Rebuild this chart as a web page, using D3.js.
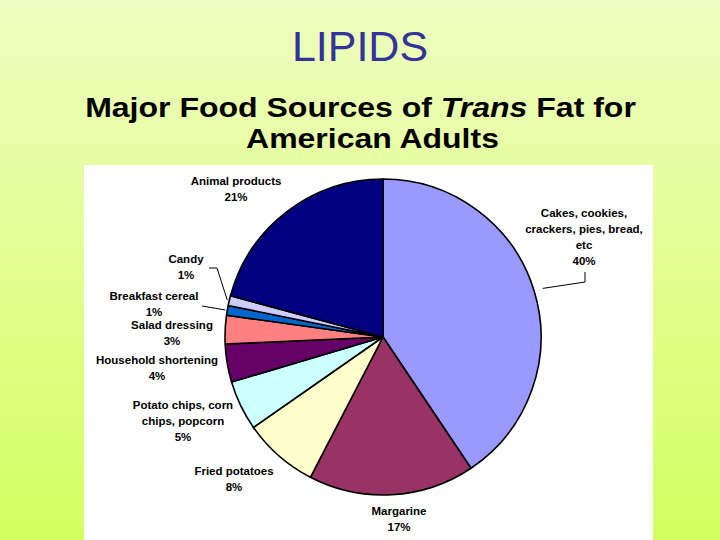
<!DOCTYPE html>
<html>
<head>
<meta charset="utf-8">
<script src="https://cdn.jsdelivr.net/npm/d3@7"></script>
<style>
  html, body { margin: 0; padding: 0; }
  body { width: 720px; height: 540px; overflow: hidden; }
</style>
</head>
<body>
<svg id="chart" width="720" height="540"></svg>
<script>
// ---- data ----
const categories = [
  "Cakes, cookies, crackers, pies, bread, etc",
  "Margarine",
  "Fried potatoes",
  "Potato chips, corn chips, popcorn",
  "Household shortening",
  "Salad dressing",
  "Breakfast cereal",
  "Candy",
  "Animal products"
];
// slice sizes
const values = [40.6, 17.0, 7.7, 5.1, 3.9, 2.9, 1.0, 1.0, 20.8];
// percentages printed in the labels
const pctLabels = ["40%", "17%", "8%", "5%", "4%", "3%", "1%", "1%", "21%"];
const labelLines = [
  ["Cakes, cookies,", "crackers, pies, bread,", "etc"],
  ["Margarine"],
  ["Fried potatoes"],
  ["Potato chips, corn", "chips, popcorn"],
  ["Household shortening"],
  ["Salad dressing"],
  ["Breakfast cereal"],
  ["Candy"],
  ["Animal products"]
];
const colors = ["#9999FF", "#993366", "#FFFFCC", "#CCFFFF", "#660066", "#FF8080", "#0066CC", "#CCCCFF", "#000080"];

// ---- layout (label anchors: centre x, first-line y) ----
const labelAnchors = [
  [584, 217], [399, 515], [234, 475], [183, 409], [157, 364],
  [172, 329], [154, 300], [186, 263], [236, 185]
];
const leaders = {
  7: { pts: [[209, 268], [217, 268]], gap: 2 },
  6: { pts: [[202, 306]], gap: 2 },
  0: { pts: [[585, 272], [585, 282]], gap: 9 }
};

const svg = d3.select("#chart");
const W = 720, H = 540;
const FONT = "Liberation Sans, Arial, sans-serif";

// background gradient
const defs = svg.append("defs");
const grad = defs.append("linearGradient").attr("id", "bg").attr("x1", 0).attr("y1", 0).attr("x2", 0).attr("y2", 1);
grad.append("stop").attr("offset", "0%").attr("stop-color", "#EEFDC0");
grad.append("stop").attr("offset", "100%").attr("stop-color", "#D4FF60");
svg.append("rect").attr("width", W).attr("height", H).attr("fill", "url(#bg)");

// titles
svg.append("text").attr("x", 360).attr("y", 61).attr("text-anchor", "middle")
  .attr("font-family", FONT).attr("font-size", 43)
  .attr("fill", "#333399").text("LIPIDS");

function fitWidth(sel, cx, target) {
  const w = sel.node().getComputedTextLength();
  const s = target / w;
  sel.attr("transform", `translate(${cx},0) scale(${s},1) translate(${-cx},0)`);
}
const sub1 = svg.append("text").attr("x", 360.5).attr("y", 117).attr("text-anchor", "middle")
  .attr("font-family", FONT).attr("font-size", 28.5).attr("font-weight", "bold").attr("fill", "#000");
sub1.append("tspan").text("Major Food Sources of ");
sub1.append("tspan").attr("font-style", "italic").text("Trans");
sub1.append("tspan").text(" Fat for");
fitWidth(sub1, 360.5, 551);
const sub2 = svg.append("text").attr("x", 372.5).attr("y", 148).attr("text-anchor", "middle")
  .attr("font-family", FONT).attr("font-size", 28.5).attr("font-weight", "bold").attr("fill", "#000")
  .text("American Adults");
fitWidth(sub2, 372.5, 253);

// white chart panel
svg.append("rect").attr("x", 84).attr("y", 165).attr("width", 569).attr("height", 380).attr("fill", "#FFFFFF");

// pie
const cx = 383, cy = 337, r = 158;
const pie = d3.pie().sort(null).value(d => d)(values);
const arc = d3.arc().innerRadius(0).outerRadius(r);
const g = svg.append("g").attr("transform", `translate(${cx},${cy})`);
g.selectAll("path").data(pie).join("path")
  .attr("d", arc)
  .attr("fill", (d, i) => colors[i])
  .attr("stroke", "#000").attr("stroke-width", 1.6).attr("stroke-linejoin", "round");

// leader lines
Object.entries(leaders).forEach(([k, L]) => {
  const d = pie[+k];
  const a = (d.startAngle + d.endAngle) / 2;
  const end = [cx + (r + L.gap) * Math.sin(a), cy - (r + L.gap) * Math.cos(a)];
  const pts = L.pts.concat([end]);
  svg.append("path").attr("d", d3.line()(pts)).attr("fill", "none")
    .attr("stroke", "#000").attr("stroke-width", 1);
});

// labels
const lg = svg.append("g").attr("font-family", FONT)
  .attr("font-size", 11.5).attr("font-weight", "bold").attr("fill", "#000").attr("text-anchor", "middle");
categories.forEach((c, i) => {
  const [x, y] = labelAnchors[i];
  const lines = labelLines[i].concat([pctLabels[i]]);
  const t = lg.append("text").attr("x", x).attr("y", y);
  lines.forEach((ln, j) => {
    t.append("tspan").attr("x", x).attr("dy", j === 0 ? 0 : 16).text(ln);
  });
});
</script>
</body>
</html>
